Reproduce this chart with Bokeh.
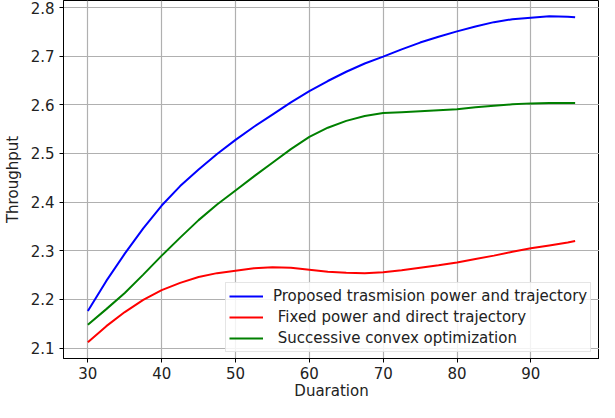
from bokeh.plotting import figure
from bokeh.models import Range1d, FixedTicker, Legend, LegendItem
from bokeh.embed import file_html
from bokeh.resources import INLINE

# Data
duration = [30, 32.5, 35, 37.5, 40, 42.5, 45, 47.5, 50, 52.5, 55, 57.5, 60, 62.5,
            65, 67.5, 70, 72.5, 75, 77.5, 80, 82.5, 85, 87.5, 90, 92.5, 95, 96]
proposed = [2.176, 2.238, 2.294, 2.346, 2.393, 2.433, 2.467, 2.499, 2.528, 2.555,
            2.580, 2.605, 2.628, 2.649, 2.668, 2.685, 2.699, 2.714, 2.728, 2.740,
            2.751, 2.761, 2.770, 2.776, 2.779, 2.782, 2.781, 2.780]
fixed = [2.112, 2.145, 2.174, 2.199, 2.219, 2.234, 2.246, 2.254, 2.259, 2.264,
         2.266, 2.265, 2.261, 2.257, 2.255, 2.254, 2.256, 2.260, 2.265, 2.270,
         2.276, 2.283, 2.290, 2.298, 2.305, 2.311, 2.317, 2.320]
sco = [2.148, 2.180, 2.213, 2.251, 2.290, 2.327, 2.363, 2.395, 2.424, 2.453,
       2.481, 2.509, 2.534, 2.553, 2.567, 2.577, 2.583, 2.585, 2.587, 2.589,
       2.591, 2.595, 2.598, 2.601, 2.603, 2.604, 2.604, 2.604]

labels = ["Proposed trasmision power and trajectory",
          " Fixed power and direct trajectory",
          " Successive convex optimization"]
x_ticks = [30, 40, 50, 60, 70, 80, 90]
y_ticks = [2.1, 2.2, 2.3, 2.4, 2.5, 2.6, 2.7, 2.8]

FONT = "DejaVu Sans"
FS = "15px"

p = figure(width=599, height=402, output_backend="svg", toolbar_location=None,
           x_range=Range1d(26.7, 99.3), y_range=Range1d(2.0785, 2.8145),
           min_border_left=61, min_border_right=0, min_border_top=0, min_border_bottom=40)

p.background_fill_color = "white"
p.border_fill_color = "white"
p.outline_line_color = "black"
p.outline_line_width = 1

for ax in (p.xaxis[0], p.yaxis[0]):
    ax.axis_line_color = "black"
    ax.major_tick_line_color = "black"
    ax.major_tick_out = 4
    ax.major_tick_in = 0
    ax.minor_tick_line_color = None
    ax.major_label_text_font = FONT
    ax.major_label_text_font_size = FS
    ax.major_label_text_color = "#222222"
    ax.axis_label_text_font = FONT
    ax.axis_label_text_font_size = FS
    ax.axis_label_text_font_style = "normal"
    ax.axis_label_text_color = "#222222"

p.xaxis[0].ticker = FixedTicker(ticks=x_ticks)
p.yaxis[0].ticker = FixedTicker(ticks=y_ticks)
p.xaxis[0].axis_label = "Duaration"
p.yaxis[0].axis_label = "Throughput"
p.xaxis[0].axis_label_standoff = 0
p.xaxis[0].major_label_standoff = 4
p.yaxis[0].axis_label_standoff = 6

p.xgrid.ticker = FixedTicker(ticks=x_ticks)
p.ygrid.ticker = FixedTicker(ticks=y_ticks)
p.grid.grid_line_color = "#b0b0b0"
p.grid.grid_line_width = 1.2

r1 = p.line(duration, proposed, line_color="#0000ff", line_width=2)
r2 = p.line(duration, fixed, line_color="#ff0000", line_width=2)
r3 = p.line(duration, sco, line_color="#008000", line_width=2)

legend = Legend(items=[LegendItem(label=labels[0], renderers=[r1]),
                       LegendItem(label=labels[1], renderers=[r2]),
                       LegendItem(label=labels[2], renderers=[r3])],
                location=(162, 6))
legend.label_text_font = FONT
legend.label_text_font_size = FS
legend.label_text_color = "#222222"
legend.label_height = 20
legend.glyph_height = 20
legend.glyph_width = 34
legend.label_standoff = 10
legend.spacing = 1
legend.padding = 3
legend.margin = 0
legend.border_line_color = "#cccccc"
legend.border_line_width = 1
legend.background_fill_alpha = 0.85
p.add_layout(legend, "center")

open("out.html", "w").write(file_html(p, INLINE))
